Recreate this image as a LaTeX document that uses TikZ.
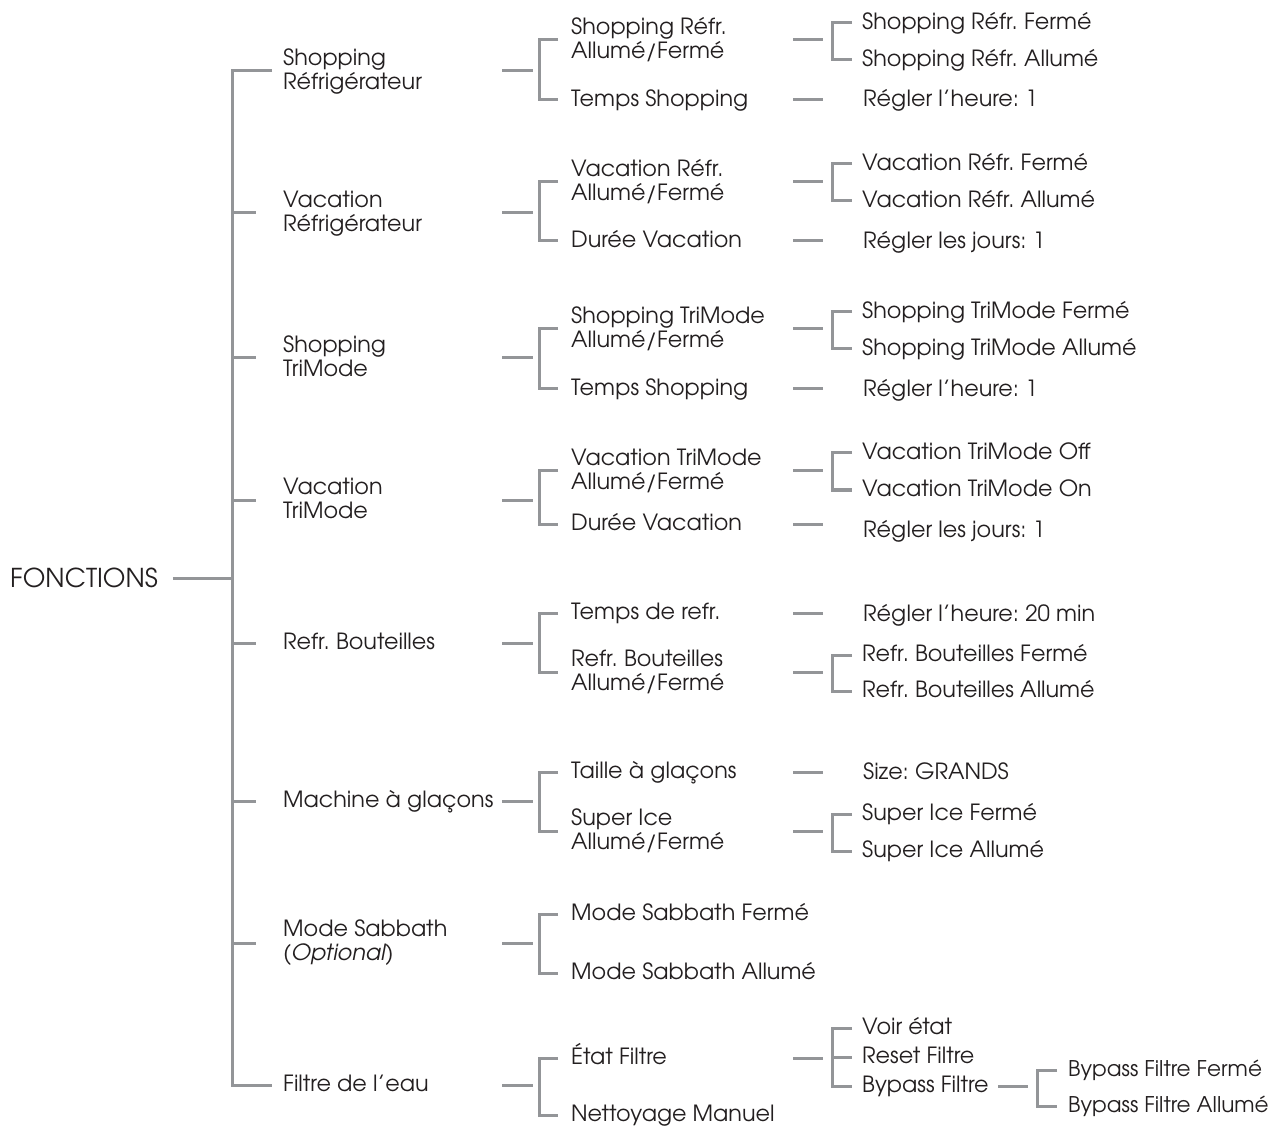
\documentclass[tikz,border=0pt]{standalone}
\usepackage{fontspec}
\setmainfont{texgyreadventor}[Extension=.otf, UprightFont=*-regular, ItalicFont=*-italic, BoldFont=*-bold, BoldItalicFont=*-bolditalic]
\definecolor{lncol}{HTML}{939598}
\definecolor{tx}{HTML}{231F20}
\newcommand\twol[2]{\rule{0pt}{17pt}#1\\#2\rule[-4pt]{0pt}{4pt}}
\frenchspacing
\begin{document}
\frenchspacing
\begin{tikzpicture}[x=1pt,y=-1pt,
  lbl/.style={anchor=west, inner sep=0pt, align=left, text=tx, font=\fontsize{22.3}{24}\selectfont\frenchspacing},
  one/.style={lbl, text height=17pt, text depth=4pt},
  big/.style={anchor=west, inner sep=0pt, text=tx, font=\fontsize{26}{28}\selectfont, text height=19pt, text depth=0pt},
  ln/.style={draw=lncol, line width=3pt}]
\useasboundingbox (0,0) rectangle (1275,1131);
% helper x positions
\coordinate (j0) at (232,578);
\coordinate (xa) at (502,0);
\coordinate (xb) at (533,0);
\coordinate (xc) at (539,0);
\coordinate (xe) at (793,0);
\coordinate (xf) at (823,0);
\coordinate (xg) at (832,0);
\coordinate (xh) at (998,0);
\coordinate (xi) at (1028,0);
\coordinate (xj) at (1037,0);
% level 0
\node[big] (f) at (10,578) {FONCTIONS};
% level 1
\node[lbl] (a1) at (283,71) {\twol{Shopping}{Réfrigérateur}};
\node[lbl] (a2) at (283,213) {\twol{Vacation}{Réfrigérateur}};
\node[lbl] (a3) at (283,358) {\twol{Shopping}{TriMode}};
\node[lbl] (a4) at (283,500) {\twol{Vacation}{TriMode}};
\node[one] (a5) at (283,643) {Refr. Bouteilles};
\node[one] (a6) at (283,801) {Machine à glaçons};
\node[lbl] (a7) at (283,943) {\twol{Mode Sabbath}{\textit{(Optional)}}};
\node[one] (a8) at (283,1085) {Filtre de l’eau};
% level 2
\node[lbl] (b1) at (571,40) {\twol{Shopping Réfr.}{Allumé/Fermé}};
\node[one] (b2) at (571,100) {Temps Shopping};
\node[lbl] (b3) at (571,182) {\twol{Vacation Réfr.}{Allumé/Fermé}};
\node[one] (b4) at (571,241) {Durée Vacation};
\node[lbl] (b5) at (571,329) {\twol{Shopping TriMode}{Allumé/Fermé}};
\node[one] (b6) at (571,389) {Temps Shopping};
\node[lbl] (b7) at (571,471) {\twol{Vacation TriMode}{Allumé/Fermé}};
\node[one] (b8) at (571,524) {Durée Vacation};
\node[one] (b9) at (571,613) {Temps de refr.};
\node[lbl] (b10) at (571,672) {\twol{Refr. Bouteilles}{Allumé/Fermé}};
\node[one] (b11) at (571,772) {Taille à glaçons};
\node[lbl] (b12) at (571,831) {\twol{Super Ice}{Allumé/Fermé}};
\node[one] (b13) at (571,914) {Mode Sabbath Fermé};
\node[one] (b14) at (571,973) {Mode Sabbath Allumé};
\node[one] (b15) at (571,1058) {État Filtre};
\node[one] (b16) at (571,1115) {Nettoyage Manuel};
% level 3
\node[one] (c1) at (862,23) {Shopping Réfr. Fermé};
\node[one] (c2) at (862,60) {Shopping Réfr. Allumé};
\node[one] (c3) at (863,100) {Régler l’heure: 1};
\node[one] (c4) at (862,164) {Vacation Réfr. Fermé};
\node[one] (c5) at (862,201) {Vacation Réfr. Allumé};
\node[one] (c6) at (863,242) {Régler les jours: 1};
\node[one] (c7) at (862,312) {Shopping TriMode Fermé};
\node[one] (c8) at (862,349) {Shopping TriMode Allumé};
\node[one] (c9) at (863,390) {Régler l’heure: 1};
\node[one] (c10) at (862,453) {Vacation TriMode Off};
\node[one] (c11) at (862,490) {Vacation TriMode On};
\node[one] (c12) at (863,531) {Régler les jours: 1};
\node[one] (c13) at (863,615) {Régler l’heure: 20 min};
\node[one] (c14) at (862,655) {Refr. Bouteilles Fermé};
\node[one] (c15) at (862,691) {Refr. Bouteilles Allumé};
\node[one] (c16) at (863,773) {Size: GRANDS};
\node[one] (c17) at (862,814) {Super Ice Fermé};
\node[one] (c18) at (862,851) {Super Ice Allumé};
\node[one] (c19) at (862,1028) {Voir état};
\node[one] (c20) at (862,1057) {Reset Filtre};
\node[one] (c21) at (862,1086) {Bypass Filtre};
% level 4
\node[one, font=\fontsize{21.6}{24}\selectfont] (d1) at (1068,1070) {Bypass Filtre Fermé};
\node[one, font=\fontsize{21.6}{24}\selectfont] (d2) at (1068,1106) {Bypass Filtre Allumé};
% ---------- connectors ----------
\draw[ln] ([xshift=15pt]f.east) -- (j0);
\draw[ln] ([xshift=-11pt]a1.west) -- (a1.west -| j0) -- (a8.west -| j0) -- ([xshift=-11pt]a8.west);
\foreach \n in {a2,a3,a4,a5,a6,a7}{\draw[ln] (\n.west -| j0) -- ([xshift=-27pt]\n.west);}
% level 1 -> level 2 brackets
\foreach \p/\u/\v in {a1/b1/b2, a2/b3/b4, a3/b5/b6, a4/b7/b8, a5/b9/b10, a6/b11/b12, a7/b13/b14, a8/b15/b16}{
  \draw[ln] (\p.west -| xa) -- (\p.west -| xb);
  \draw[ln] ([xshift=-13pt]\u.west) -- (\u.west -| xc) -- (\v.west -| xc) -- ([xshift=-13pt]\v.west);
}
% level 2 -> level 3 brackets
\foreach \p/\u/\v in {b1/c1/c2, b3/c4/c5, b5/c7/c8, b7/c10/c11, b10/c14/c15, b12/c17/c18}{
  \draw[ln] (\p.west -| xe) -- (\p.west -| xf);
  \draw[ln] ([xshift=-10pt]\u.west) -- (\u.west -| xg) -- (\v.west -| xg) -- ([xshift=-10pt]\v.west);
}
% level 2 -> single level 3
\foreach \p in {b2,b4,b6,b8,b9,b11}{
  \draw[ln] (\p.west -| xe) -- (\p.west -| xf);
}
% Etat Filtre -> three
\draw[ln] (b15.west -| xe) -- (b15.west -| xf);
\draw[ln] ([xshift=-10pt]c19.west) -- (c19.west -| xg) -- (c21.west -| xg) -- ([xshift=-10pt]c21.west);
\draw[ln] (c20.west -| xg) -- ([xshift=-10pt]c20.west);
% Bypass Filtre -> two
\draw[ln] (c21.west -| xh) -- (c21.west -| xi);
\draw[ln] ([xshift=-11pt]d1.west) -- (d1.west -| xj) -- (d2.west -| xj) -- ([xshift=-11pt]d2.west);
\end{tikzpicture}
\end{document}
